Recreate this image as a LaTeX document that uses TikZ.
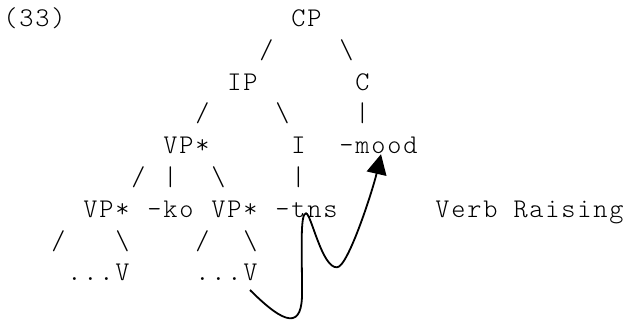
\documentclass[tikz,border=0pt]{standalone}
\usepackage{fontspec}
\usepackage{tikz}
\usetikzlibrary{arrows.meta, calc}
\newfontfamily\treefont[Extension=.otf, LetterSpace=6.7]{lmmonolt10-regular}

\begin{document}
\begin{tikzpicture}[x=0.5pt, y=-0.5pt,
    txt/.style={anchor=base west, inner sep=0pt, font=\treefont\fontsize{13.5pt}{16pt}\selectfont},
    raise/.style={line width=0.9pt, -{Triangle[length=10pt,width=10pt]}}]
\useasboundingbox (0,0) rectangle (627,320);

% Example number and top of the tree
\node[txt] (ex) at (3,26.5) {(33)};
\node[txt] (cp) at (291,26.5) {CP};
\node[txt] (ip) at (227,90.1) {IP};
\node[txt] (c) at (355,90.1) {C};

% Middle level
\node[txt] (vpa) at (163,153.7) {VP*};
\node[txt] (i) at (291,153.7) {I};
\node[txt] (mood) at (339,153.7) {-mood};

% Lower level
\node[txt] (vpb) at (83,217.3) {VP*};
\node[txt] (ko) at (147,217.3) {-ko};
\node[txt] (vpc) at (211,217.3) {VP*};
\node[txt] (tns) at (275,217.3) {-tns};
\node[txt] (label) at (435,217.3) {Verb Raising};

% Leaves
\node[txt] (va) at (67,280.9) {...V};
\node[txt] (vb) at (195,280.9) {...V};

% Branches
\foreach \x/\y/\b/\n in {259/58.3/\slash/b1, 339/58.3/\textbackslash/b2,
    195/121.9/\slash/b3, 275/121.9/\textbackslash/b4, 355/121.9/|/b5,
    131/185.5/\slash/b6, 163/185.5/|/b7, 211/185.5/\textbackslash/b8, 291/185.5/|/b9,
    51/249.1/\slash/b10, 115/249.1/\textbackslash/b11, 195/249.1/\slash/b12, 243/249.1/\textbackslash/b13}
  \node[txt] (\n) at (\x,\y) {\b};

% Verb movement
\draw[raise] (250,290) .. controls +(35,35) and +(1,40) .. ($(tns.base west)+(27,73)$)
  .. controls +(0,-40) and +(-6,0) .. ($(tns.base west)+(31,-4)$)
  .. controls +(5,0) and +(-15,1) .. ($(tns.base west)+(62,50)$)
  .. controls +(11,0) and +(-8,35) .. ($(mood.base west)+(42,0.5)$);
\end{tikzpicture}
\end{document}
